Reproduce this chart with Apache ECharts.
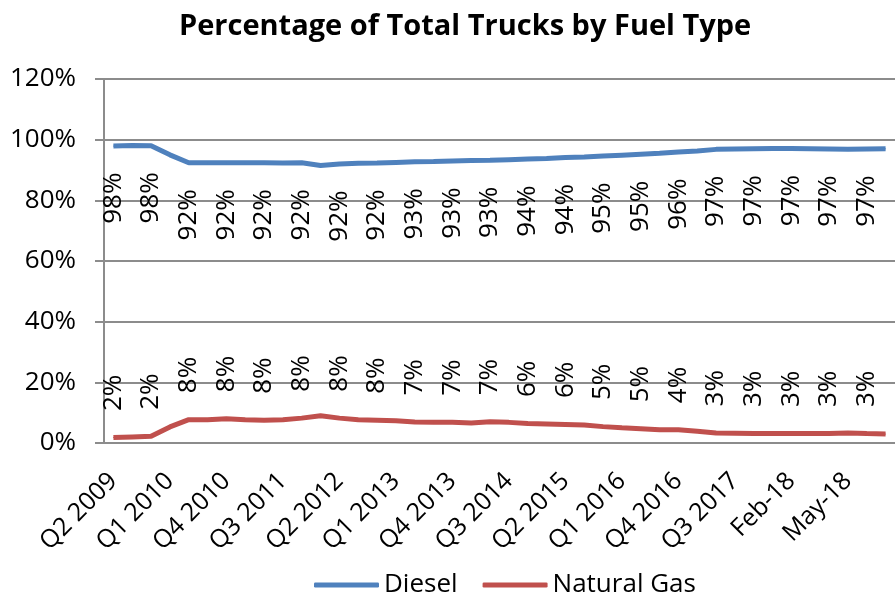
<!DOCTYPE html>
<html lang="en">
<head>
    <meta charset="UTF-8">
    <title>Percentage of Total Trucks by Fuel Type</title>
    <style>
        html, body { margin: 0; padding: 0; background: #fff; }
        #container { width: 895px; height: 599px; }
    </style>
    <script src="https://cdn.jsdelivr.net/npm/echarts@6/dist/echarts.min.js"></script>
</head>
<body>
<div id="container"></div>
<script type="text/javascript">
    // categories: quarterly up to Q3 2017, then months (only every 3rd is labelled)
    var periods = [
        'Q2 2009', 'Q3 2009', 'Q4 2009', 'Q1 2010', 'Q2 2010', 'Q3 2010', 'Q4 2010',
        'Q1 2011', 'Q2 2011', 'Q3 2011', 'Q4 2011', 'Q1 2012', 'Q2 2012', 'Q3 2012',
        'Q4 2012', 'Q1 2013', 'Q2 2013', 'Q3 2013', 'Q4 2013', 'Q1 2014', 'Q2 2014',
        'Q3 2014', 'Q4 2014', 'Q1 2015', 'Q2 2015', 'Q3 2015', 'Q4 2015', 'Q1 2016',
        'Q2 2016', 'Q3 2016', 'Q4 2016', 'Q1 2017', 'Q2 2017', 'Q3 2017', 'Q4 2017',
        'Jan-18', 'Feb-18', 'Mar-18', 'Apr-18', 'May-18', 'Jun-18', 'Jul-18'
    ];
    var diesel = [
        97.9, 98.1, 98.0, 95.0, 92.4, 92.4, 92.4, 92.4, 92.4, 92.3, 92.4, 91.5, 92.0, 92.2,
        92.3, 92.5, 92.7, 92.8, 93.0, 93.1, 93.2, 93.4, 93.6, 93.8, 94.1, 94.3, 94.6, 94.9,
        95.2, 95.5, 95.9, 96.3, 96.8, 96.9, 97.0, 97.1, 97.1, 97.0, 96.9, 96.8, 96.9, 97.0
    ];
    var naturalGas = [
        1.8, 2.0, 2.2, 5.3, 7.7, 7.7, 8.0, 7.7, 7.5, 7.7, 8.2, 9.0, 8.2, 7.7,
        7.5, 7.3, 6.9, 6.8, 6.8, 6.6, 7.0, 6.8, 6.4, 6.3, 6.1, 5.9, 5.4, 5.0,
        4.7, 4.4, 4.4, 3.9, 3.3, 3.2, 3.1, 3.1, 3.1, 3.1, 3.1, 3.3, 3.1, 3.0
    ];
    var yTicks = [0, 20, 40, 60, 80, 100, 120];

    var font = 'Open Sans';
    var gridColor = '#8c8c8c';
    var fs = 26;

    var myChart = echarts.init(document.getElementById('container'));

    // label only every other point, rounded like the source
    function pctLabel(p) {
        return p.dataIndex % 2 === 0 ? Math.round(p.value) + '%' : '';
    }

    var option = {
        animation: false,
        textStyle: { fontFamily: font, color: '#000' },
        title: {
            text: 'Percentage of Total Trucks by Fuel Type',
            left: 174,
            top: 7,
            textStyle: { fontFamily: font, fontSize: 29, fontWeight: 'bold', color: '#000' }
        },
        legend: {
            left: 309,
            top: 567,
            icon: 'roundRect',
            itemWidth: 65,
            itemHeight: 5,
            itemGap: 25,
            textStyle: { fontSize: fs, color: '#000' },
            data: ['Diesel', 'Natural Gas']
        },
        grid: { left: 104, top: 79, right: -7, bottom: 156 },
        xAxis: {
            type: 'category',
            data: periods,
            boundaryGap: true,
            axisLine: { lineStyle: { color: gridColor, width: 2 } },
            axisTick: { interval: 0, length: 10, lineStyle: { color: gridColor, width: 2 } },
            axisLabel: { interval: 2, rotate: 45, fontSize: 25, color: '#000', margin: 34 }
        },
        yAxis: {
            type: 'value',
            min: yTicks[0],
            max: yTicks[yTicks.length - 1],
            interval: 20,
            axisLine: { show: true, lineStyle: { color: gridColor, width: 2 } },
            axisTick: { show: true, length: 9, lineStyle: { color: gridColor, width: 2 } },
            splitLine: { lineStyle: { color: gridColor, width: 2 } },
            axisLabel: { fontSize: fs, color: '#000', margin: 28, formatter: '{value}%' }
        },
        series: [
            {
                name: 'Diesel',
                type: 'line',
                data: diesel,
                symbol: 'circle',
                symbolSize: 1,
                color: '#4f81bd',
                lineStyle: { width: 5, color: '#4f81bd' },
                label: {
                    show: true, position: 'bottom', distance: 26, rotate: 90,
                    align: 'right', verticalAlign: 'middle',
                    fontSize: fs, color: '#000', formatter: pctLabel
                }
            },
            {
                name: 'Natural Gas',
                type: 'line',
                data: naturalGas,
                symbol: 'circle',
                symbolSize: 1,
                color: '#c0504d',
                lineStyle: { width: 5, color: '#c0504d' },
                label: {
                    show: true, position: 'top', distance: 26, rotate: 90,
                    align: 'left', verticalAlign: 'middle',
                    fontSize: fs, color: '#000', formatter: pctLabel
                }
            }
        ]
    };

    myChart.setOption(option);
</script>
</body>
</html>
